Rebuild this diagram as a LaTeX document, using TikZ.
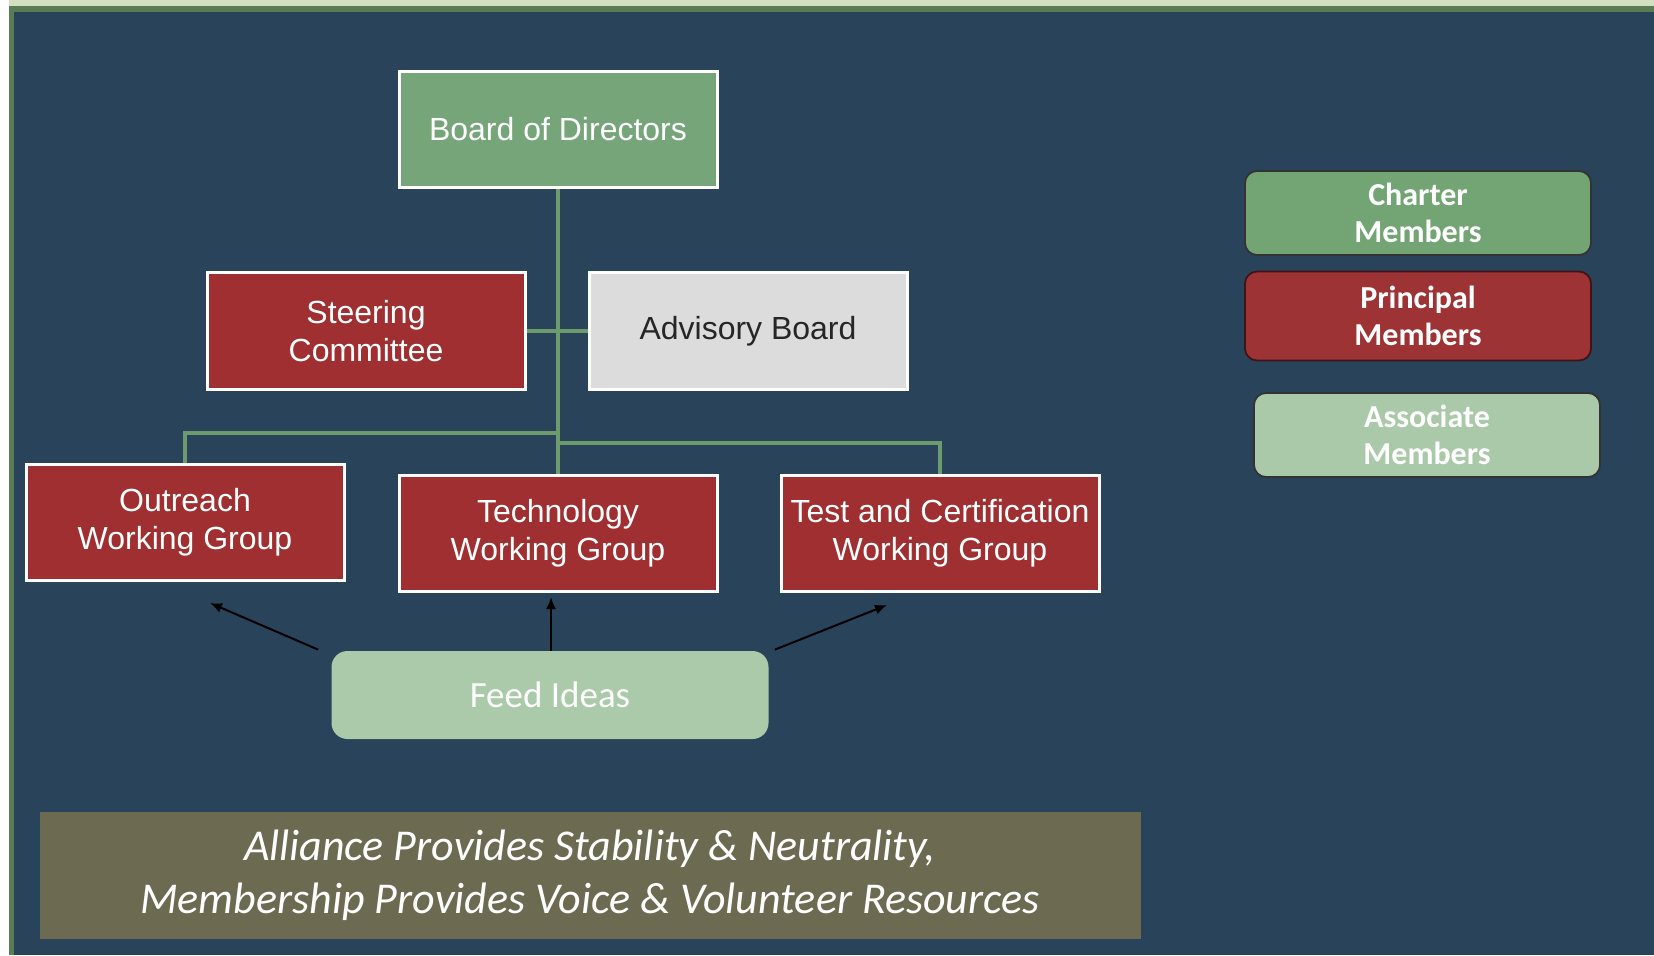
\documentclass[tikz,border=0pt]{standalone}
\usepackage{fontspec}
\setmainfont{Liberation Sans}
\newfontfamily\calib{Carlito}
\usetikzlibrary{arrows.meta}
\pgfdeclarelayer{bg}
\pgfsetlayers{bg,main}
\definecolor{navy}{HTML}{29435A}
\definecolor{palegreen}{HTML}{D3DFC0}
\definecolor{edgegreen}{HTML}{5B7B55}
\definecolor{boardgreen}{HTML}{76A57A}
\definecolor{pred}{HTML}{9F2F30}
\definecolor{advgray}{HTML}{DCDCDC}
\definecolor{conngreen}{HTML}{6C9C6E}
\definecolor{feedgreen}{HTML}{AACAA9}
\definecolor{olive}{HTML}{6C6B52}
\definecolor{chgreen}{HTML}{73A574}
\definecolor{prred}{HTML}{9E3336}
\definecolor{asgreen}{HTML}{A9C9A8}
\begin{document}
\begin{tikzpicture}[x=0.5pt,y=-0.5pt,
  orgbox/.style={draw=white, line width=1.5pt, minimum width=159pt, minimum height=58pt,
    align=center, inner sep=0pt, font=\fontsize{16}{19}\selectfont},
  redbox/.style={orgbox, fill=pred, text=white},
  conn/.style={draw=conngreen, line width=2pt},
  arr/.style={draw=black, line width=1pt, -{Latex[length=6pt,width=5pt]}},
  legend/.style={rounded corners=6pt, draw=black!80, line width=0.9pt, minimum width=173pt,
    minimum height=42pt, align=center, inner sep=0pt, text=white,
    font=\calib\bfseries\fontsize{16}{18.5}\selectfont}]
\useasboundingbox (0,0) rectangle (1654,955);
\begin{pgfonlayer}{bg}
\fill[navy] (0,0) rectangle (1654,955);
\fill[palegreen] (0,0) rectangle (1654,6);
\fill[edgegreen] (0,6) rectangle (1654,12);
\fill[white] (0,0) rectangle (9,955);
\fill[edgegreen] (9,12) rectangle (14,955);
\end{pgfonlayer}

\node[orgbox, fill=boardgreen, text=white] (board) at (558,129) {Board of Directors};
\node[redbox, minimum height=58.5pt] (steer) at (366,331) {Steering\\Committee};
\node[orgbox, fill=advgray, text=black!85, minimum height=58.5pt] (adv) at (748,331) {Advisory Board};
\node[redbox] (out) at (185,522) {Outreach\\Working Group};
\node[redbox] (tech) at (558,533) {Technology\\Working Group};
\node[redbox] (test) at (940,533) {Test and Certification\\Working Group};

\coordinate (jl) at (558,433);
\coordinate (jr) at (558,443);
\begin{pgfonlayer}{bg}
\draw[conn] (board.south) -- (tech.north);
\draw[conn] (steer.east) -- (adv.west);
\draw[conn] (jl) -| (out.north);
\draw[conn] (jr) -| (test.north);
\end{pgfonlayer}

% feed ideas
\node[fill=feedgreen, rounded corners=8pt, minimum width=218.5pt, minimum height=44pt,
  text=white, font=\calib\fontsize{18.5}{22}\selectfont, inner sep=0pt] (feed) at (550,695) {Feed Ideas};
\coordinate (al) at (210,603);
\coordinate (am) at (551,597);
\coordinate (ar) at (887,605);
\draw[arr] ([xshift=-6.5pt,yshift=0.5pt]feed.north west) -- (al);
\draw[arr] ([xshift=0.5pt]feed.north) -- (am);
\draw[arr] ([xshift=3pt,yshift=0.5pt]feed.north east) -- (ar);

% banner
\node[fill=olive, minimum width=550.5pt, minimum height=63.5pt, align=center, inner sep=0pt,
  text=white, font=\calib\itshape\fontsize{22}{26.5}\selectfont] (banner) at (590,875)
  {Alliance Provides Stability \& Neutrality,\\Membership Provides Voice \& Volunteer Resources};

% legend
\node[legend, fill=chgreen] (charter) at (1418,213) {Charter\\Members};
\node[legend, fill=prred, minimum height=44.5pt, draw=black!60!prred] (principal) at (1418,316) {Principal\\Members};
\node[legend, fill=asgreen] (assoc) at (1427,435) {Associate\\Members};
\end{tikzpicture}
\end{document}
